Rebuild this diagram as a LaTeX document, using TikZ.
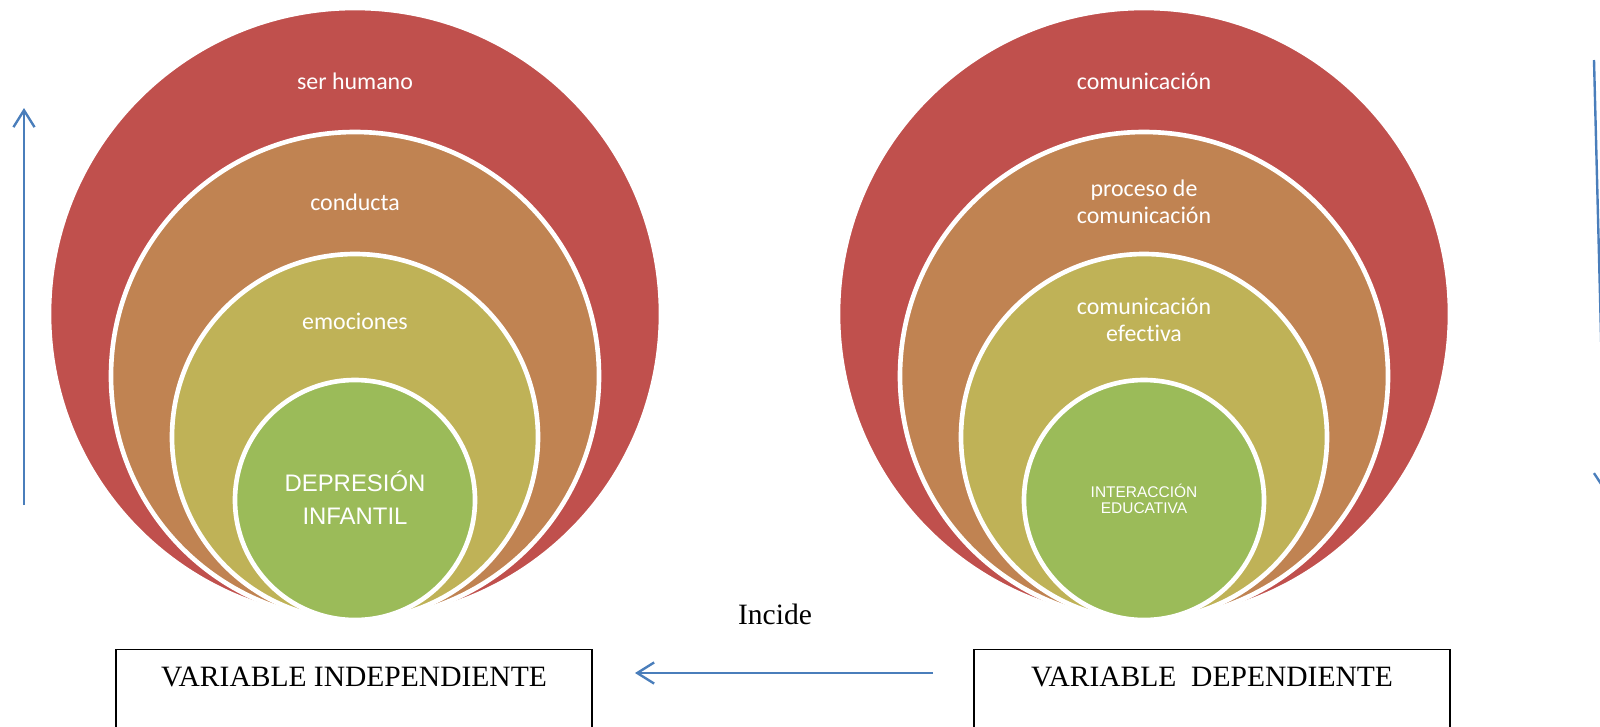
\documentclass[tikz,border=0pt]{standalone}
\usepackage{fontspec}
\setmainfont{Liberation Serif}
\newfontfamily\calibri[Ligatures={NoCommon,NoRare}]{Carlito}
\newfontfamily\arial{Liberation Sans}
\usepackage{tikz}
\usetikzlibrary{positioning, arrows, arrows.meta}

\definecolor{ringred}{HTML}{C0504D}
\definecolor{ringorange}{HTML}{C08352}
\definecolor{ringyellow}{HTML}{BFB257}
\definecolor{ringgreen}{HTML}{9BBB59}
\definecolor{arrowblue}{HTML}{4A7EBB}

\tikzset{
  ring/.style={draw=white, line width=3.3pt},
  ringtext/.style={text=white, font=\calibri\fontsize{17}{19}\selectfont, align=center},
  coretext/.style={text=white, font=\arial\fontsize{17}{23.5}\selectfont, align=center},
  varbox/.style={draw, line width=1pt, anchor=north, minimum width=11.9cm,
    font=\fontsize{21}{24}\selectfont, text height=14pt, text depth=40pt, inner ysep=12.3pt},
  blue arrow/.style={draw=arrowblue, line width=1.7pt, -{Straight Barb[length=12pt,width=15pt]}}
}

\begin{document}
\begin{tikzpicture}[x=0.025cm, y=-0.025cm]
\useasboundingbox (0,0) rectangle (1600,726);
\clip (0,0) rectangle (1600,726);

% left set of circles
\fill[ringred, ring] (355,314) circle (306);
\fill[ringorange, ring] (355,376) circle (244);
\fill[ringyellow, ring] (355,437) circle (183);
\fill[ringgreen, ring] (355,500) circle (120);
\node[ringtext] (serhumano) at (355,81) {ser humano};
\node[ringtext] (conducta) at (355,202) {conducta};
\node[ringtext] (emociones) at (355,321) {emociones};
\node[coretext] (depresion) at (355,498) {DEPRESIÓN\\INFANTIL};

% right set of circles
\fill[ringred, ring] (1144,314) circle (306);
\fill[ringorange, ring] (1144,376) circle (244);
\fill[ringyellow, ring] (1144,437) circle (183);
\fill[ringgreen, ring] (1144,500) circle (120);
\node[ringtext] (comunicacion) at (1144,81) {comunicación};
\node[ringtext] (proceso) at (1144,202) {proceso de\\comunicación};
\node[ringtext] (efectiva) at (1144,320) {comunicación\\efectiva};
\node[text=white, font=\arial\fontsize{11}{11.4}\selectfont, align=center] (interaccion) at (1144,499) {INTERACCIÓN\\EDUCATIVA};

% variables
\node[varbox] (indep) at (354,649) {VARIABLE INDEPENDIENTE};
\node[varbox] (dep) at (1212,649) {VARIABLE\ \ DEPENDIENTE};
\node[font=\fontsize{21}{24}\selectfont] (incide) at (775,614) {Incide};

% arrows
\coordinate (incfrom) at (933,673);
\coordinate (incto) at (635,673);
\draw[blue arrow] (incfrom) -- (incto);
\coordinate (upfrom) at (24,505);
\coordinate (upto) at (24,108);
\draw[blue arrow] (upfrom) -- (upto);
\coordinate (downfrom) at (1594,60);
\coordinate (downto) at (1605,492);
\draw[blue arrow] (downfrom) -- (downto);
\end{tikzpicture}
\end{document}
